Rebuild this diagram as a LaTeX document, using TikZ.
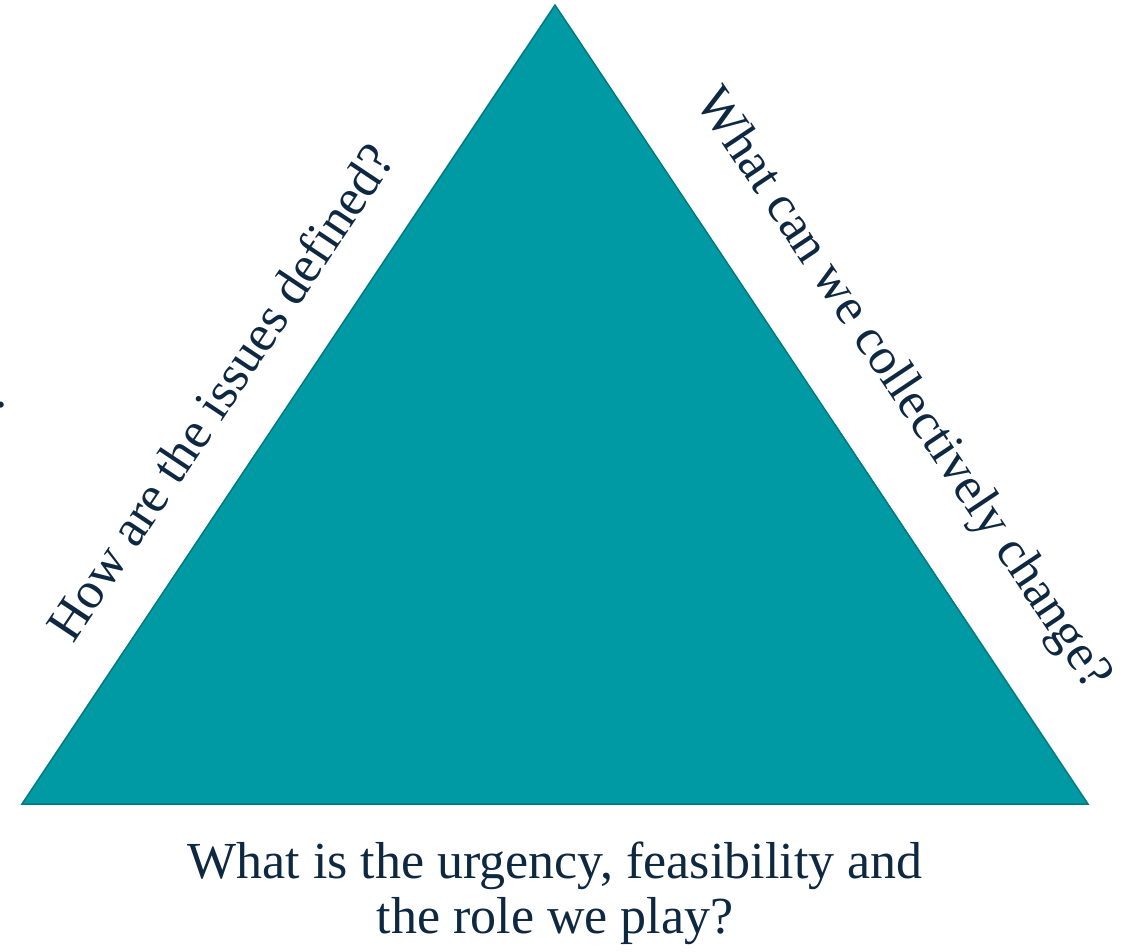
\documentclass[tikz,border=0pt]{standalone}
\usepackage{fontspec}
\setmainfont{Liberation Serif}
\definecolor{tealfill}{HTML}{009AA5}
\definecolor{tealedge}{HTML}{007A80}
\definecolor{navytext}{HTML}{0E2841}
\begin{document}
\begin{tikzpicture}[x=1pt,y=-1pt,
  label text/.style={text=navytext,font=\fontsize{52}{55}\selectfont,inner sep=0pt},
  tri/.style={fill=tealfill,draw=tealedge,line width=1.5pt,line join=miter}]
\useasboundingbox (0,0) rectangle (1125,952);
\coordinate (top) at (555,5);
\coordinate (bl) at (22,804);
\coordinate (br) at (1088,804);
\path[tri] (top) -- (bl) -- (br) -- cycle;
\node[label text,rotate=56.3] (left) at (220,392) {How are the issues defined?};
\node[label text,rotate=-56.3] (right) at (902,390) {What can we collectively change?};
\node[label text,align=center] (bottom) at (555,893) {What is the urgency, feasibility and\\the role we play?};
\node[label text,rotate=90,anchor=south] (frag) at (4,404) {?};
\end{tikzpicture}
\end{document}
